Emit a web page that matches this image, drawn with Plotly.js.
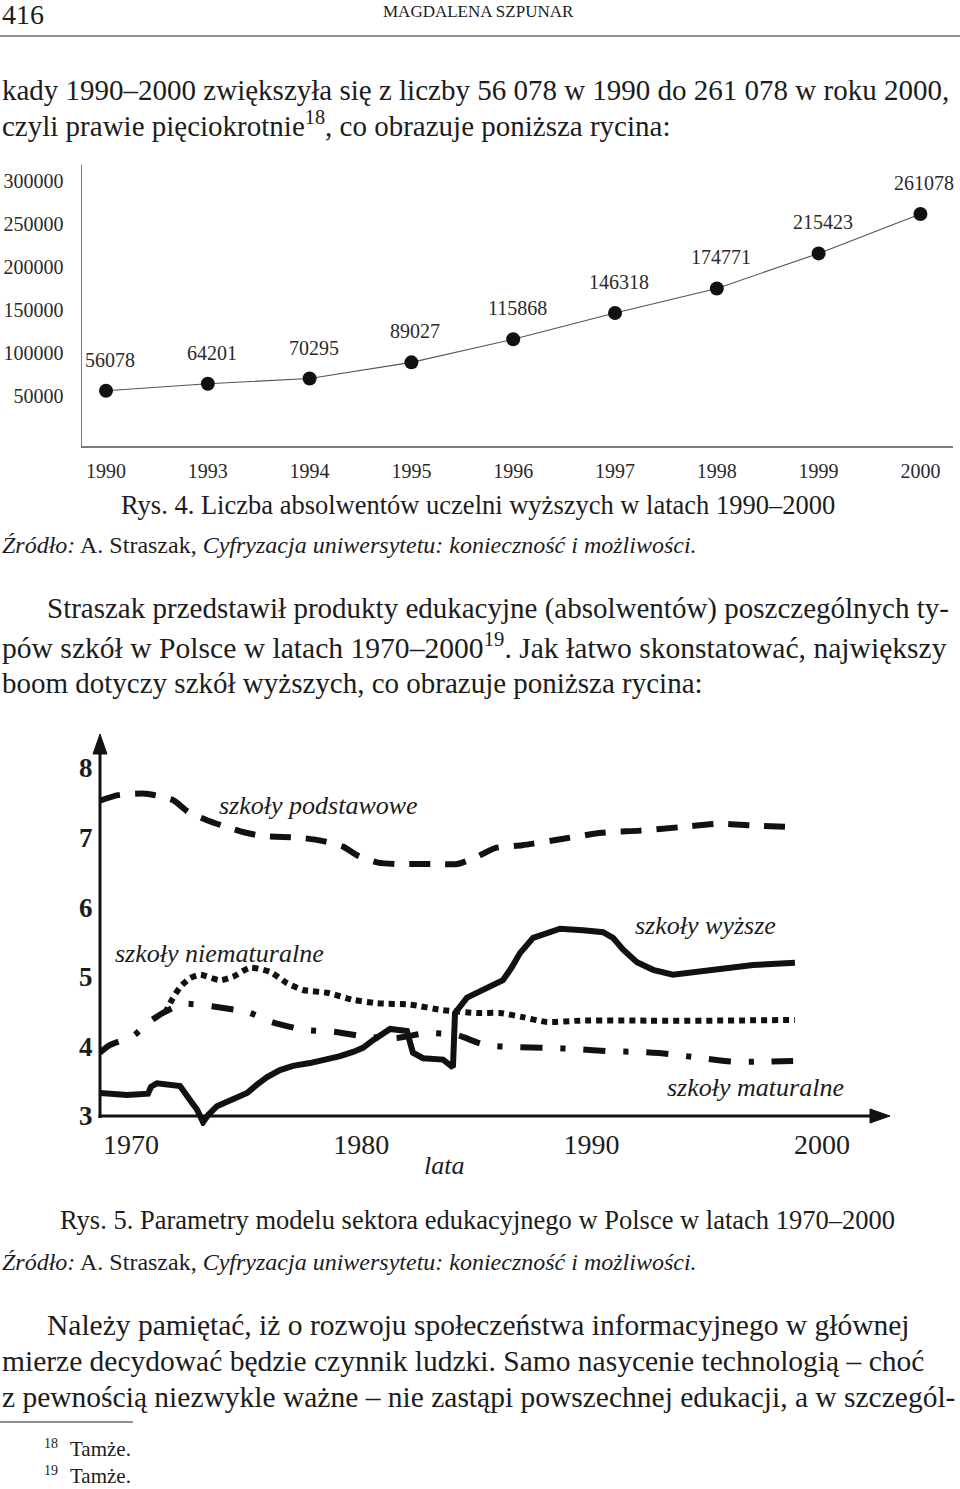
<!DOCTYPE html>
<html><head><meta charset="utf-8">
<script src="https://cdn.plot.ly/plotly-3.0.1.min.js"></script>
<style>html,body{margin:0;padding:0;background:#fff}#chart{width:960px;height:1489px}</style>
</head><body><div id="chart"></div>
<script>
// ---------- Rys. 4 data ----------
const years1 = ['1990','1993','1994','1995','1996','1997','1998','1999','2000'];
const graduates = [56078, 64201, 70295, 89027, 115868, 146318, 174771, 215423, 261078];
const yTicks1 = [50000, 100000, 150000, 200000, 250000, 300000];

// ---------- Rys. 5 data ----------
const podstX = [1968.65,1969.44,1970.65,1971.82,1972.48,1973.30,1974.17,1974.86,1975.73,1976.60,1977.56,1978.34,1979.21,1979.86,1980.73,1981.56,1982.42,1983.29,1984.16,1984.94,1985.81,1986.98,1988.71,1990.45,1992.10,1993.84,1995.49,1997.18,1998.83];
const podstY = [7.53,7.61,7.63,7.54,7.37,7.25,7.15,7.08,7.02,7.01,6.99,6.95,6.87,6.74,6.64,6.62,6.62,6.62,6.62,6.71,6.85,6.89,6.98,7.07,7.10,7.15,7.20,7.17,7.15];

const niematX = [1971.48,1971.78,1972.13,1972.56,1973.00,1973.86,1974.43,1975.17,1976.04,1976.77,1977.47,1978.51,1979.64,1980.68,1982.11,1983.55,1985.02,1986.02,1987.02,1988.06,1989.50,1992.41,1995.27,1998.83];
const niematY = [4.48,4.67,4.85,4.98,5.03,4.95,5.00,5.13,5.07,4.91,4.81,4.77,4.67,4.62,4.60,4.52,4.48,4.48,4.42,4.35,4.37,4.37,4.37,4.38];

const maturX = [1968.65,1969.09,1970.09,1970.74,1971.39,1972.26,1973.65,1975.08,1976.12,1977.47,1978.81,1980.16,1981.51,1982.85,1984.16,1985.37,1986.72,1988.06,1989.41,1990.71,1992.10,1993.40,1994.79,1996.10,1997.44,1998.75];
const maturY = [3.91,4.02,4.15,4.34,4.48,4.61,4.57,4.49,4.35,4.24,4.21,4.14,4.12,4.19,4.16,4.02,3.99,3.98,3.96,3.93,3.92,3.89,3.83,3.78,3.78,3.79];

const wyzszeX = [1968.65,1969.83,1970.74,1970.87,1971.13,1971.56,1972.13,1972.56,1972.87,1973.13,1973.34,1973.73,1974.30,1975.04,1975.47,1975.91,1976.47,1977.03,1977.77,1978.51,1979.08,1979.64,1980.07,1980.51,1981.25,1981.98,1982.24,1982.68,1983.55,1983.98,1984.07,1984.59,1985.46,1986.15,1986.54,1986.89,1987.46,1988.06,1988.63,1989.63,1990.50,1990.93,1991.37,1991.97,1992.67,1993.53,1995.27,1997.01,1998.83];
const wyzszeY = [3.33,3.30,3.32,3.42,3.47,3.46,3.43,3.23,3.09,2.91,3.01,3.14,3.23,3.33,3.45,3.56,3.66,3.72,3.76,3.81,3.86,3.92,3.98,4.09,4.25,4.22,3.91,3.83,3.81,3.70,4.48,4.70,4.85,4.95,5.14,5.34,5.56,5.63,5.69,5.67,5.64,5.56,5.39,5.21,5.10,5.03,5.10,5.17,5.20];

const xTicks2 = [1970, 1980, 1990, 2000];
const yTicks2 = [3, 4, 5, 6, 7, 8];

// ---------- helpers ----------
const W = 960, H = 1489;
const px = x => x / W;
const py = y => 1 - y / H;
const SERIF = 'Liberation Serif, Times New Roman, serif';
const INK = '#1c1c1c';

function txt(text, x, y, size, opts) {
  opts = opts || {};
  return {
    xref: 'paper', yref: 'paper', x: px(x), y: py(y),
    xanchor: opts.xanchor || 'left', yanchor: 'middle',
    text: text, showarrow: false,
    font: {family: SERIF, size: size, color: opts.color || INK}
  };
}

const ann = [];
// header
ann.push(txt('416', 0, 14, 28));
ann.push(txt('MAGDALENA SZPUNAR', 478, 12, 17, {xanchor: 'center'}));
// paragraph 1
ann.push(txt('kady 1990–2000 zwiększyła się z liczby 56 078 w 1990 do 261 078 w roku 2000,', 0, 90, 29));
ann.push(txt('czyli prawie pięciokrotnie<sup>18</sup>, co obrazuje poniższa rycina:', 0, 124, 29));
// caption 4
ann.push(txt('Rys. 4. Liczba absolwentów uczelni wyższych w latach 1990–2000', 478, 505, 26.5, {xanchor: 'center'}));
ann.push(txt('<i>Źródło:</i> A. Straszak, <i>Cyfryzacja uniwersytetu: konieczność i możliwości.</i>', 0, 545, 24));
// paragraph 2
ann.push(txt('Straszak przedstawił produkty edukacyjne (absolwentów) poszczególnych ty-', 45, 608, 29));
ann.push(txt('pów szkół w Polsce w latach 1970–2000<sup>19</sup>. Jak łatwo skonstatować, największy', 0, 646, 29.6));
ann.push(txt('boom dotyczy szkół wyższych, co obrazuje poniższa rycina:', 0, 683, 29));
// caption 5
ann.push(txt('Rys. 5. Parametry modelu sektora edukacyjnego w Polsce w latach 1970–2000', 477, 1220, 26.5, {xanchor: 'center'}));
ann.push(txt('<i>Źródło:</i> A. Straszak, <i>Cyfryzacja uniwersytetu: konieczność i możliwości.</i>', 0, 1262, 24));
// paragraph 3
ann.push(txt('Należy pamiętać, iż o rozwoju społeczeństwa informacyjnego w głównej', 45, 1325, 29.5));
ann.push(txt('mierze decydować będzie czynnik ludzki. Samo nasycenie technologią – choć', 0, 1361, 29.5));
ann.push(txt('z pewnością niezwykle ważne – nie zastąpi powszechnej edukacji, a w szczegól-', 0, 1397, 29.5));
// footnotes
ann.push(txt('18', 42, 1443, 14));
ann.push(txt('Tamże.', 68, 1449, 21));
ann.push(txt('19', 42, 1470, 14));
ann.push(txt('Tamże.', 68, 1476, 21));

// chart 2 series labels
const itl = (t, x, y) => txt('<i>' + t + '</i>', x, y, 26);
ann.push(itl('szkoły podstawowe', 217, 805));
ann.push(itl('szkoły niematuralne', 113, 953));
ann.push(itl('szkoły wyższe', 633, 925));
ann.push(itl('szkoły maturalne', 665, 1087));
ann.push(itl('lata', 422, 1165));

// chart 1 value labels (from data; category index on x)
for (let i = 0; i < years1.length; i++) {
  ann.push({
    xref: 'x', yref: 'y', x: i, y: graduates[i], yshift: 31, xshift: 4,
    xanchor: 'center', yanchor: 'middle',
    text: String(graduates[i]), showarrow: false,
    font: {family: SERIF, size: 20, color: '#2a2a2a'}
  });
}

// shapes: rules and chart 2 axes with arrows
const shapes = [
  {type: 'line', xref: 'paper', yref: 'paper', x0: 0, x1: 1, y0: py(36), y1: py(36), line: {color: '#222', width: 1.2}},
  {type: 'line', xref: 'paper', yref: 'paper', x0: 0, x1: px(133), y0: py(1422), y1: py(1422), line: {color: '#222', width: 1.2}},
  // chart2 y axis
  {type: 'line', xref: 'paper', yref: 'paper', x0: px(100), x1: px(100), y0: py(1118), y1: py(748), line: {color: '#111', width: 3}},
  {type: 'path', xref: 'paper', yref: 'paper',
   path: `M ${px(100)},${py(734)} L ${px(93)},${py(754)} L ${px(107)},${py(754)} Z`,
   fillcolor: '#111', line: {color: '#111', width: 1}},
  // chart2 x axis
  {type: 'line', xref: 'paper', yref: 'paper', x0: px(98.5), x1: px(876), y0: py(1116), y1: py(1116), line: {color: '#111', width: 3}},
  {type: 'path', xref: 'paper', yref: 'paper',
   path: `M ${px(890)},${py(1116)} L ${px(870)},${py(1109)} L ${px(870)},${py(1123)} Z`,
   fillcolor: '#111', line: {color: '#111', width: 1}}
];

const traces = [
  {
    x: years1, y: graduates, xaxis: 'x', yaxis: 'y', type: 'scatter', mode: 'lines+markers',
    line: {color: '#555', width: 1.1},
    marker: {color: '#111', size: 14},
    hoverinfo: 'skip', cliponaxis: false
  },
  {x: podstX, y: podstY, xaxis: 'x2', yaxis: 'y2', type: 'scatter', mode: 'lines',
   line: {color: '#111', width: 6, dash: '21px,15px', shape: 'spline', smoothing: 0.6}, hoverinfo: 'skip'},
  {x: niematX, y: niematY, xaxis: 'x2', yaxis: 'y2', type: 'scatter', mode: 'lines',
   line: {color: '#111', width: 6, dash: '6px,5px', shape: 'spline', smoothing: 0.6}, hoverinfo: 'skip'},
  {x: maturX, y: maturY, xaxis: 'x2', yaxis: 'y2', type: 'scatter', mode: 'lines',
   line: {color: '#111', width: 6, dash: '22px,18px,5px,18px', shape: 'spline', smoothing: 0.6}, hoverinfo: 'skip'},
  {x: wyzszeX, y: wyzszeY, xaxis: 'x2', yaxis: 'y2', type: 'scatter', mode: 'lines',
   line: {color: '#111', width: 6, shape: 'linear'}, hoverinfo: 'skip'}
];

const layout = {
  width: W, height: H,
  margin: {l: 0, r: 0, t: 0, b: 0, pad: 0},
  paper_bgcolor: '#fff', plot_bgcolor: 'rgba(0,0,0,0)',
  showlegend: false,
  xaxis: {
    domain: [px(82), px(953)], anchor: 'y', type: 'category',
    categoryorder: 'array', categoryarray: years1,
    range: [-0.236, 8.32],
    showline: true, linecolor: '#7a7a7a', linewidth: 1.5,
    showgrid: false, zeroline: false,
    ticks: 'outside', ticklen: 6, tickcolor: 'rgba(0,0,0,0)',
    tickfont: {family: SERIF, size: 20, color: '#2a2a2a'}, fixedrange: true
  },
  yaxis: {
    domain: [py(446), py(165)], anchor: 'x',
    range: [-8000, 318000],
    tickvals: yTicks1, ticktext: yTicks1.map(String),
    showline: true, linecolor: '#7a7a7a', linewidth: 1.5,
    showgrid: false, zeroline: false,
    ticks: 'outside', ticklen: 13, tickcolor: 'rgba(0,0,0,0)',
    tickfont: {family: SERIF, size: 20, color: '#2a2a2a'}, fixedrange: true
  },
  xaxis2: {
    domain: [px(100), px(888)], anchor: 'free', position: py(1116),
    range: [1968.654, 2002.87],
    tickvals: xTicks2, ticktext: xTicks2.map(String),
    showline: false, showgrid: false, zeroline: false,
    ticks: 'outside', ticklen: 3, tickcolor: 'rgba(0,0,0,0)',
    tickfont: {family: SERIF, size: 28, color: INK}, fixedrange: true
  },
  yaxis2: {
    domain: [py(1126), py(735)], anchor: 'x2',
    range: [2.856, 8.474],
    tickvals: yTicks2, ticktext: yTicks2.map(v => '<b>' + v + '</b>'),
    showline: false, showgrid: false, zeroline: false,
    ticks: 'outside', ticklen: 1, tickcolor: 'rgba(0,0,0,0)',
    tickfont: {family: SERIF, size: 27, color: INK}, fixedrange: true
  },
  annotations: ann,
  shapes: shapes
};

Plotly.newPlot('chart', traces, layout, {staticPlot: true, displayModeBar: false});
</script>
</body></html>
